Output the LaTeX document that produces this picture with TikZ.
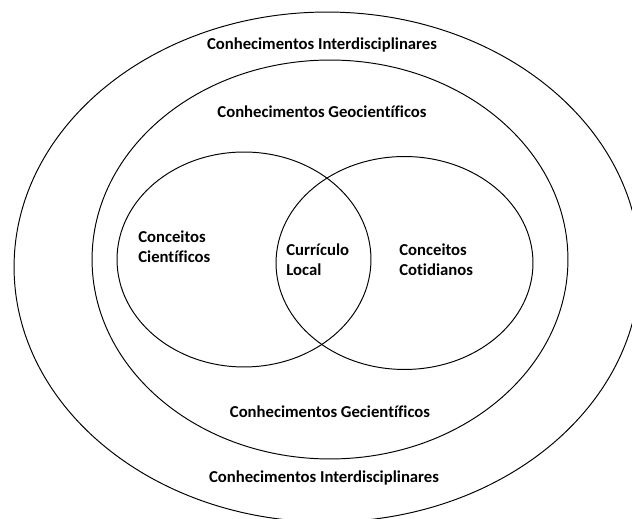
\documentclass[tikz,border=0pt]{standalone}
\usepackage{fontspec}
\setmainfont[Ligatures=NoCommon]{Carlito}
\usepackage{tikz}
\usetikzlibrary{shapes.geometric,positioning}
\tikzstyle{lbl} = [font=\bfseries\fontsize{9.5}{11.3}\selectfont, inner sep=0pt, align=left]
\tikzstyle{ring} = [draw, ellipse, line width=0.55pt, inner sep=0pt]

\begin{document}
\begin{tikzpicture}[x=0.02cm, y=-0.02cm]
			\useasboundingbox (0,0) rectangle (632,519);
			% outer
			\coordinate (E1) at (327,267);
			% middle
			\coordinate (E2) at (330,259.5);
			% left and right
			\coordinate (E3) at (244,259.5);
			\coordinate (E4) at (404.5,263);
			\begin{scope}[every node/.style={ring, minimum width=12.52cm, minimum height=10.2cm}]
			\node[name=E1] at (E1) {};
			\end{scope}
			\begin{scope}[every node/.style={ring, minimum width=9.52cm, minimum height=7.98cm}]
			\node[name=E2] at (E2) {};
			\end{scope}
			\begin{scope}[every node/.style={ring, minimum width=5.08cm, minimum height=4.3cm}]
			\node[name=E3] at (E3) {};
			\end{scope}
			\begin{scope}[every node/.style={ring, minimum width=5.14cm, minimum height=4.26cm}]
			\node[name=E4] at (E4) {};
			\end{scope}
			% labels
			\node[lbl, name=T1] at (322,45) {Conhecimentos Interdisciplinares};
			\node[lbl, name=T2] at (322,112) {Conhecimentos Geocientíficos};
			\node[lbl, name=T3, anchor=west] at (138,247) {Conceitos\\Científicos};
			\node[lbl, name=T4, anchor=west] at (286,260) {Currículo\\Local};
			\node[lbl, name=T5, anchor=west] at (399,260) {Conceitos\\Cotidianos};
			\node[lbl, name=T6] at (330,412) {Conhecimentos Gecientíficos};
			\node[lbl, name=T7] at (324,478) {Conhecimentos Interdisciplinares};
			\end{tikzpicture}
\end{document}
